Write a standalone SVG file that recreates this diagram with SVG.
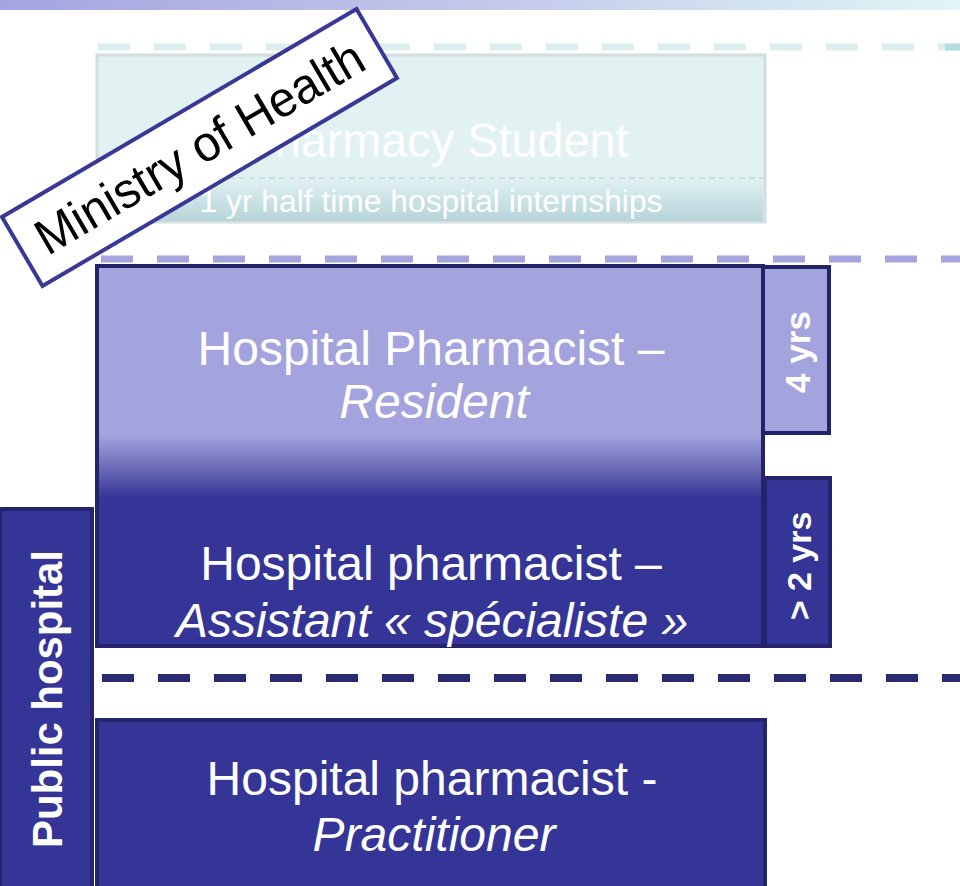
<svg xmlns="http://www.w3.org/2000/svg" width="960" height="886" viewBox="0 0 960 886">
<style>
.t{font-family:"Liberation Sans",Arial,sans-serif;fill:#ffffff;text-anchor:middle}
.it{font-style:italic}
.b{font-weight:bold}
.dark{fill:#353597;stroke:#24246c;stroke-width:4}
.sep{fill:none}
</style>
<defs>
<linearGradient id="topbar" x1="0" y1="0" x2="1" y2="0">
<stop offset="0" stop-color="#a4a4e0"/>
<stop offset="0.5" stop-color="#c2c8ea"/>
<stop offset="1" stop-color="#e0f6f6"/>
</linearGradient>
<linearGradient id="resgrad" x1="0" y1="0" x2="0" y2="1">
<stop offset="0" stop-color="#a3a3de"/>
<stop offset="0.445" stop-color="#a3a3de"/>
<stop offset="0.53" stop-color="#6c6cb8"/>
<stop offset="0.61" stop-color="#353597"/>
<stop offset="1" stop-color="#353597"/>
</linearGradient>
<linearGradient id="subgrad" x1="0" y1="0" x2="0" y2="1">
<stop offset="0" stop-color="#e2f2f3"/>
<stop offset="1" stop-color="#b6d4d8"/>
</linearGradient>
</defs>
<rect x="0" y="0" width="960" height="886" fill="#ffffff"/>
<rect x="0" y="0" width="960" height="10" fill="url(#topbar)"/>

<g id="separators">
<line class="sep" x1="98" y1="47" x2="960" y2="47" stroke="#dcefef" stroke-width="7" stroke-dasharray="32 24"/>
<rect x="945" y="43.5" width="15" height="7" fill="#b5dcdf"/>
<line class="sep" x1="101" y1="259" x2="960" y2="259" stroke="#a5a5de" stroke-width="7" stroke-dasharray="32 24"/>
<line class="sep" x1="102" y1="678" x2="960" y2="678" stroke="#2a2a72" stroke-width="8" stroke-dasharray="32 24"/>
</g>

<g id="student">
<rect x="97" y="55" width="668" height="167" fill="#e2f1f2" stroke="#d2dede" stroke-width="3"/>
<rect x="99" y="178" width="664" height="43" fill="url(#subgrad)"/>
<line x1="99" y1="178" x2="763" y2="178" stroke="#c8d8da" stroke-width="1.5" stroke-dasharray="6 4"/>
<text class="t" x="436" y="157" font-size="48" textLength="385" lengthAdjust="spacingAndGlyphs">Pharmacy Student</text>
<text class="t" x="431" y="212" font-size="31" textLength="463" lengthAdjust="spacingAndGlyphs">1 yr half time hospital internships</text>
</g>

<g id="resident-assistant">
<rect x="97" y="266" width="666" height="380" fill="url(#resgrad)" stroke="#23236a" stroke-width="4"/>
<text class="t" x="431" y="365" font-size="48">Hospital Pharmacist –</text>
<text class="t it" x="434" y="418" font-size="48">Resident</text>
<text class="t" x="431" y="580" font-size="48">Hospital pharmacist –</text>
<text class="t it" x="432" y="637" font-size="48">Assistant « spécialiste »</text>
</g>

<g id="four-yrs">
<rect x="763" y="267" width="66" height="166" fill="#a3a3de" stroke="#23236a" stroke-width="4"/>
<text class="t b" font-size="35" transform="translate(810,352) rotate(-90)">4 yrs</text>
</g>

<g id="two-yrs">
<rect x="765" y="478" width="65" height="168" class="dark"/>
<text class="t b" font-size="34" transform="translate(811,566) rotate(-90)">&gt; 2 yrs</text>
</g>

<g id="public-hospital">
<rect x="0" y="509" width="92" height="390" class="dark"/>
<text class="t b" font-size="42" textLength="298" lengthAdjust="spacingAndGlyphs" transform="translate(62,699) rotate(-90)">Public hospital</text>
</g>

<g id="practitioner">
<rect x="97" y="720" width="668" height="180" class="dark"/>
<text class="t" x="432" y="795" font-size="48">Hospital pharmacist -</text>
<text class="t it" x="434" y="851" font-size="48">Practitioner</text>
</g>

<g id="ministry" transform="translate(199.5,147.5) rotate(-30.4)">
<rect x="-205.5" y="-40" width="411" height="80" fill="#ffffff" stroke="#383896" stroke-width="4"/>
<text x="0" y="17" font-size="50" textLength="372" lengthAdjust="spacingAndGlyphs" font-family="Liberation Sans, Arial, sans-serif" text-anchor="middle" fill="#000000">Ministry of Health</text>
</g>
</svg>
